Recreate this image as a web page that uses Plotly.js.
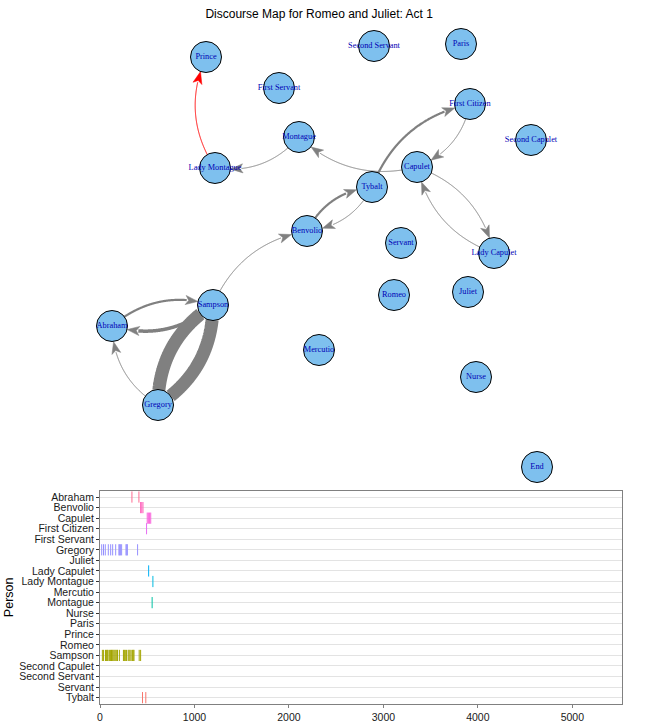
<!DOCTYPE html>
<html><head><meta charset="utf-8">
<script src="https://cdn.plot.ly/plotly-3.0.1.min.js"></script>
<style>html,body{margin:0;padding:0;background:#fff}</style>
</head><body><div id="chart" style="width:650px;height:725px"></div>
<script>
// ---------------- data ----------------
const chartTitle = "Discourse Map for Romeo and Juliet: Act 1";
const persons = ["Abraham","Benvolio","Capulet","First Citizen","First Servant","Gregory","Juliet","Lady Capulet","Lady Montague","Mercutio","Montague","Nurse","Paris","Prince","Romeo","Sampson","Second Capulet","Second Servant","Servant","Tybalt"];
const xTicks = [0, 1000, 2000, 3000, 4000, 5000];

// speech times (position in the act) per speaker
const abrahamTimes = [338, 412];
const benvolioTimes = [430, 442, 455];
const capuletTimes = [500, 512, 525, 537];
const firstCitizenTimes = [493];
const gregoryTimes = [18, 37, 56, 88, 113, 134, 166, 200, 208, 216, 229, 275, 283, 290, 398];
const ladyCapuletTimes = [515];
const ladyMontagueTimes = [560];
const montagueTimes = [552];
const sampsonTimes = [25, 38, 58, 68, 78, 86, 102, 112, 122, 130, 138, 148, 158, 168, 178, 185, 205, 248, 258, 268, 280, 298, 308, 318, 330, 345, 352, 360, 415, 430];
const tybaltTimes = [450, 485];
const speakers = ["Abraham","Benvolio","Capulet","First Citizen","Gregory","Lady Capulet","Lady Montague","Montague","Sampson","Tybalt"];
const speakerTimes = [abrahamTimes, benvolioTimes, capuletTimes, firstCitizenTimes, gregoryTimes, ladyCapuletTimes, ladyMontagueTimes, montagueTimes, sampsonTimes, tybaltTimes];

// network layout (layout units, y downward)
const nodeNames = ["Abraham","Benvolio","Capulet","End","First Citizen","First Servant","Gregory","Juliet","Lady Capulet","Lady Montague","Mercutio","Montague","Nurse","Paris","Prince","Romeo","Sampson","Second Capulet","Second Servant","Servant","Tybalt"];
const nodeX = [112, 307, 417, 537, 470, 279, 158, 468, 494, 215, 319, 299, 476, 461, 206, 394, 213, 531, 374, 401, 372];
const nodeY = [326, 231, 167, 467, 104, 88, 405, 292, 253, 168, 350, 137, 377, 44, 57, 295, 305, 140, 46, 243, 187];

// edges (turn transitions) and their counts
const edgeFrom = ["Sampson","Gregory","Sampson","Abraham","Gregory","Sampson","Benvolio","Tybalt","Tybalt","First Citizen","Capulet","Lady Capulet","Capulet","Montague","Lady Montague"];
const edgeTo   = ["Gregory","Sampson","Abraham","Sampson","Abraham","Benvolio","Tybalt","Benvolio","First Citizen","Capulet","Lady Capulet","Capulet","Montague","Lady Montague","Prince"];
const edgeWeight = [13, 13, 3.5, 2.2, 1, 1, 2.2, 1, 2.2, 1, 1, 1, 1, 1, 1];

// ---------------- styles ----------------
const huePalette = ["#F8766D","#EA8331","#D89000","#C09B00","#A3A500","#7CAE00","#39B600","#00BB4E","#00BF7D","#00C1A3","#00BFC4","#00BAE0","#00B0F6","#35A2FF","#9590FF","#C77CFF","#E76BF3","#FA62DB","#FF62BC","#FF6C91"];
const R = 15.5, ARROW_L = 12, ARROW_W = 4.5, CURVE = 0.27;
const highlightEdge = edgeFrom.length - 1;

const traces = [];

// ---- network edges ----
function idx(n){ return nodeNames.indexOf(n); }
for (let e = 0; e < edgeFrom.length; e++) {
  const a = idx(edgeFrom[e]), b = idx(edgeTo[e]);
  const x1 = nodeX[a], y1 = nodeY[a], x2 = nodeX[b], y2 = nodeY[b];
  const dx = x2 - x1, dy = y2 - y1;
  const cx = (x1 + x2) / 2 + CURVE * dy, cy = (y1 + y2) / 2 - CURVE * dx;
  const pts = [];
  for (let i = 0; i <= 300; i++) {
    const t = i / 300, u = 1 - t;
    pts.push([u*u*x1 + 2*u*t*cx + t*t*x2, u*u*y1 + 2*u*t*cy + t*t*y2]);
  }
  const d1 = p => Math.hypot(p[0]-x1, p[1]-y1);
  const d2 = p => Math.hypot(p[0]-x2, p[1]-y2);
  const s = pts.findIndex(p => d1(p) >= R - 1);
  let tip = 0, back = 0;
  pts.forEach((p, i) => { if (d2(p) >= R) tip = i; if (d2(p) >= R + ARROW_L - 1) back = i; });
  const w = Math.max(1, edgeWeight[e]);
  const color = e === highlightEdge ? "#FF0000" : "#808080";
  const endI = w >= 6 ? tip : back;
  const seg = pts.slice(s, endI + 1);
  traces.push({type:"scatter", mode:"lines", xaxis:"x2", yaxis:"y2",
    x: seg.map(p => p[0]), y: seg.map(p => p[1]),
    line:{color: color, width: w, shape:"linear", simplify:false}, hoverinfo:"skip", showlegend:false});
  // arrow head
  const T = pts[tip];
  let B = null;
  for (let i = tip; i >= 0; i--) { if (Math.hypot(pts[i][0]-T[0], pts[i][1]-T[1]) >= ARROW_L) { B = pts[i]; break; } }
  const ux = (T[0]-B[0]) / ARROW_L, uy = (T[1]-B[1]) / ARROW_L;
  const vx = -uy, vy = ux;
  const N = [B[0] + ux*3, B[1] + uy*3];
  traces.push({type:"scatter", mode:"lines", xaxis:"x2", yaxis:"y2", fill:"toself", fillcolor: color,
    x:[T[0], B[0]+vx*ARROW_W, N[0], B[0]-vx*ARROW_W, T[0]],
    y:[T[1], B[1]+vy*ARROW_W, N[1], B[1]-vy*ARROW_W, T[1]],
    line:{color: color, width: 0.5, simplify:false}, hoverinfo:"skip", showlegend:false});
}

// ---- network nodes ----
traces.push({type:"scatter", mode:"markers+text", xaxis:"x2", yaxis:"y2",
  x: nodeX, y: nodeY, text: nodeNames, textposition:"middle center",
  textfont:{family:"Liberation Serif, Times New Roman, serif", size:8.3, color:"#0000B4"},
  marker:{size:31, color:"#7EC0EE", line:{color:"#000000", width:1}},
  hoverinfo:"skip", showlegend:false});

// ---- timeline ----
speakers.forEach((sp, k) => {
  const i = persons.indexOf(sp);
  traces.push({type:"scatter", mode:"markers", xaxis:"x", yaxis:"y",
    x: speakerTimes[k], y: speakerTimes[k].map(() => i),
    marker:{symbol:"line-ns", size:8, line:{width:1, color: huePalette[19 - i]}, color: huePalette[19 - i]},
    hoverinfo:"skip", showlegend:false});
});

const tickFont = {family:"Liberation Sans, Arial, sans-serif", size:10.5, color:"#1A1A1A"};
const layout = {
  width:650, height:725,
  margin:{l:0, r:0, t:0, b:0},
  paper_bgcolor:"#ffffff", plot_bgcolor:"rgba(0,0,0,0)",
  showlegend:false,
  title:{text: chartTitle, x:0.491, xanchor:"center", y:0.981, yanchor:"middle", yref:"container",
         font:{family:"Liberation Sans, Arial, sans-serif", size:12, color:"#000"}},
  xaxis:{domain:[100/650, 621.7/650], anchor:"y", range:[0, 5523], tickvals:xTicks,
         ticktext: xTicks.map(String), showgrid:false, zeroline:false,
         showline:true, mirror:true, linecolor:"#808080", linewidth:1,
         ticks:"outside", ticklen:3, tickcolor:"#808080", tickfont:tickFont},
  yaxis:{domain:[21/725, 234.3/725], anchor:"x", range:[19.6, -0.6],
         tickvals: persons.map((p, i) => i), ticktext: persons,
         showgrid:true, gridcolor:"#E3E3E3", gridwidth:1, zeroline:false,
         showline:true, mirror:true, linecolor:"#808080", linewidth:1,
         ticks:"outside", ticklen:3, tickcolor:"#333333", tickfont:tickFont,
         title:{text:"Person", font:{family:"Liberation Sans, Arial, sans-serif", size:12.5, color:"#000"}, standoff:2}},
  xaxis2:{domain:[0,1], anchor:"y2", range:[0,650], visible:false, fixedrange:true},
  yaxis2:{domain:[0,1], anchor:"x2", range:[725,0], visible:false, fixedrange:true}
};
Plotly.newPlot("chart", traces, layout, {staticPlot:true, displayModeBar:false});
</script>
</body></html>
